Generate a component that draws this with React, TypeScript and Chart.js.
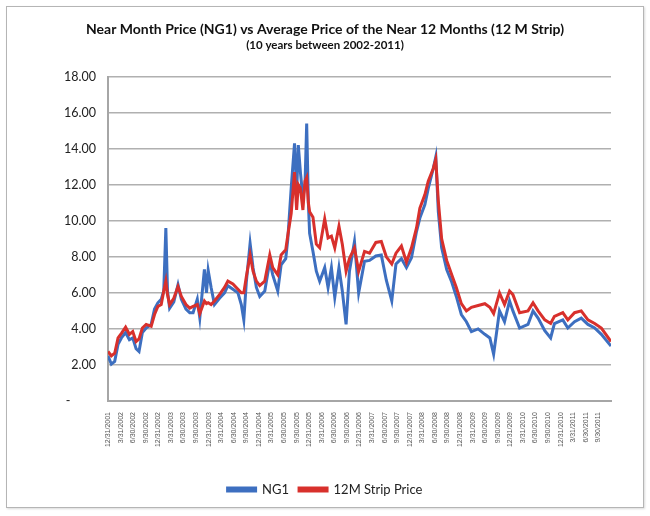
import React, { useEffect, useRef } from "react";
import { Chart, registerables } from "chart.js";

Chart.register(...registerables);

// x positions in months after 12/31/2001
const months = [
  0, 0.8, 1.6, 2.4, 3.2, 4.2, 5.1, 5.9, 6.7, 7.4, 8.2, 9.1, 10.3, 11.1, 11.9, 12.7, 13.3, 13.8, 14.2, 14.7,
  15.7, 16.7, 17.5, 18.6, 19.5, 20.3, 21.3, 21.9, 23.0, 23.5, 23.9, 24.6, 25.4, 26.6, 27.8, 28.6, 29.8, 31.0,
  31.8, 32.4, 33.0, 33.9, 34.6, 35.4, 36.2, 37.4, 38.6, 39.3, 40.5, 41.3, 42.4, 42.9, 43.7, 44.5, 45.0, 45.4,
  45.9, 46.5, 47.0, 47.4, 47.8, 48.1, 48.9, 49.7, 50.5, 51.7, 52.5, 53.3, 54.1, 55.1, 55.9, 56.8, 57.6, 58.8,
  59.8, 61.2, 62.4, 63.9, 65.2, 66.4, 67.7, 68.7, 70.0, 71.2, 72.4, 73.6, 74.4, 75.6, 76.4, 77.6, 78.2, 78.8,
  79.6, 80.8, 82.0, 83.1, 84.3, 85.5, 86.7, 88.3, 89.9, 91.1, 92.0, 93.4, 94.6, 95.8, 96.6, 98.2, 100.2, 101.4,
  102.6, 104.2, 105.6, 106.5, 108.5, 109.7, 111.3, 112.9, 114.5, 116.1, 117.7, 120,
];

const ng1 = [
  2.5, 2.05, 2.2, 3.15, 3.5, 3.8, 3.4, 3.5, 2.9, 2.75, 3.8, 4.05, 4.25, 5.1, 5.45, 5.65, 6.1, 9.6, 6.1, 5.15,
  5.5, 6.45, 5.65, 5.1, 4.9, 4.9, 5.65, 4.6, 7.3, 6.0, 7.25, 6.3, 5.35, 5.7, 6.0, 6.4, 6.2, 6.0,
  5.35, 4.5, 6.6, 8.75, 7.4, 6.3, 5.8, 6.1, 7.75, 7.0, 6.1, 7.55, 7.9, 9.0, 11.8, 14.3, 11.5, 14.2,
  12.7, 11.3, 12.0, 15.4, 11.0, 9.3, 8.3, 7.2, 6.65, 7.4, 6.3, 7.4, 5.75, 7.4, 6.1, 4.25, 7.2, 8.85,
  6.0, 7.75, 7.8, 8.05, 8.1, 6.7, 5.55, 7.6, 7.9, 7.4, 7.95, 9.4, 10.15, 10.9, 11.8, 12.9, 13.55, 10.5,
  8.5, 7.3, 6.6, 5.8, 4.8, 4.4, 3.85, 4.0, 3.7, 3.5, 2.6, 5.0, 4.4, 5.55, 5.0, 4.05, 4.25, 5.0,
  4.6, 3.9, 3.5, 4.3, 4.5, 4.05, 4.4, 4.6, 4.25, 4.05, 3.7, 3.05,
];

const strip = [
  2.75, 2.5, 2.65, 3.5, 3.75, 4.1, 3.7, 3.85, 3.3, 3.45, 4.05, 4.25, 4.15, 4.8, 5.25, 5.35, 6.1, 6.65, 5.9, 5.35,
  5.7, 6.35, 5.8, 5.35, 5.15, 5.25, 5.35, 4.85, 5.55, 5.4, 5.45, 5.35, 5.55, 5.9, 6.3, 6.65, 6.5, 6.2,
  6.0, 6.0, 6.9, 8.1, 7.2, 6.65, 6.4, 6.65, 8.1, 7.4, 7.0, 8.1, 8.4, 9.2, 10.4, 12.7, 10.6, 12.0,
  11.8, 10.6, 12.2, 12.4, 11.0, 10.5, 10.2, 8.7, 8.5, 10.1, 9.05, 9.15, 8.5, 9.7, 8.7, 7.2, 7.9, 8.5,
  7.2, 8.3, 8.2, 8.8, 8.85, 8.0, 7.6, 8.2, 8.6, 7.7, 8.5, 9.6, 10.7, 11.45, 12.2, 12.9, 13.4, 11.1,
  9.0, 7.8, 7.0, 6.3, 5.4, 5.0, 5.2, 5.3, 5.4, 5.2, 4.85, 6.0, 5.35, 6.1, 5.9, 4.9, 5.0, 5.45,
  5.0, 4.5, 4.3, 4.7, 4.9, 4.5, 4.9, 5.0, 4.5, 4.3, 4.05, 3.3,
];

const quarterLabels = [
  "12/31/2001", "3/31/2002", "6/30/2002", "9/30/2002", "12/31/2002", "3/31/2003", "6/30/2003", "9/30/2003",
  "12/31/2003", "3/31/2004", "6/30/2004", "9/30/2004", "12/31/2004", "3/31/2005", "6/30/2005", "9/30/2005",
  "12/31/2005", "3/31/2006", "6/30/2006", "9/30/2006", "12/31/2006", "3/31/2007", "6/30/2007", "9/30/2007",
  "12/31/2007", "3/31/2008", "6/30/2008", "9/30/2008", "12/31/2008", "3/31/2009", "6/30/2009", "9/30/2009",
  "12/31/2009", "3/31/2010", "6/30/2010", "9/30/2010", "12/31/2010", "3/31/2011", "6/30/2011", "9/30/2011",
];

const seriesNames = ["NG1", "12M Strip Price"];
const titleText = "Near Month Price (NG1) vs Average Price of the Near 12 Months (12 M Strip)";
const subtitleText = "(10 years between 2002-2011)";

const BLUE = "#3d6fc0";
const RED = "#d8302c";

export default function App() {
  const ref = useRef<HTMLCanvasElement | null>(null);

  useEffect(() => {
    document.body.style.margin = "0";
    const canvas = ref.current;
    if (!canvas) return;
    const chart = new Chart(canvas, {
      type: "line",
      data: {
        datasets: [
          {
            label: seriesNames[0],
            data: months.map((m, i) => ({ x: m, y: ng1[i] })),
            borderColor: BLUE,
            backgroundColor: BLUE,
            borderWidth: 3,
            pointRadius: 0,
            tension: 0,
            order: 1,
          },
          {
            label: seriesNames[1],
            data: months.map((m, i) => ({ x: m, y: strip[i] })),
            borderColor: RED,
            backgroundColor: RED,
            borderWidth: 3,
            pointRadius: 0,
            tension: 0,
            order: 0,
          },
        ],
      },
      options: {
        animation: false,
        responsive: false,
        layout: { padding: { left: 39, right: 39, top: 0, bottom: 10 } },
        plugins: {
          title: {
            display: true,
            text: titleText,
            color: "#111",
            font: { family: "Lato", size: 14, weight: "bold" },
            padding: { top: 21, bottom: 1 },
          },
          subtitle: {
            display: true,
            text: subtitleText,
            color: "#111",
            font: { family: "Lato", size: 11.5, weight: "bold" },
            padding: { top: 0, bottom: 24 },
          },
          legend: {
            position: "bottom",
            labels: {
              boxWidth: 28,
              boxHeight: 3,
              padding: 10,
              color: "#222",
              font: { family: "Lato", size: 13 },
              sort: (a: any, b: any) => a.datasetIndex - b.datasetIndex,
            },
          },
          tooltip: { enabled: false },
        },
        scales: {
          x: {
            type: "linear",
            min: 0,
            max: 120,
            afterFit: (s: any) => {
              s.height = 72;
            },
            afterBuildTicks: (s: any) => {
              s.ticks = quarterLabels.map((_, i) => ({ value: i * 3 }));
            },
            grid: { display: false },
            border: { display: true, color: "#a6a6a6", width: 2 },
            ticks: {
              autoSkip: false,
              maxRotation: 90,
              minRotation: 90,
              padding: 3,
              color: "#555",
              font: { family: "Liberation Sans", size: 7 },
              callback: (v: any) => quarterLabels[Math.round(Number(v) / 3)] ?? "",
            },
          },
          y: {
            min: 0,
            max: 18,
            afterFit: (s: any) => {
              s.width = 69;
            },
            grid: { color: "#b0b0b0", lineWidth: 1.5, drawTicks: false },
            border: { display: true, color: "#a6a6a6", width: 2 },
            ticks: {
              stepSize: 2,
              padding: 12,
              color: "#222",
              font: { family: "Lato", size: 12.5 },
              callback: (v: any) => (Number(v) === 0 ? "-" + "\u00a0".repeat(8) : Number(v).toFixed(2)),
            },
          },
        },
      },
    });
    return () => chart.destroy();
  }, []);

  return (
    <div style={{ position: "relative", width: 650, height: 516, background: "#fff" }}>
      <div
        style={{
          position: "absolute",
          left: 6,
          top: 6,
          width: 636,
          height: 500,
          border: "1px solid #b5b5b5",
          boxShadow: "1px 1px 2px rgba(0,0,0,0.15)",
        }}
      />
      <canvas ref={ref} width={650} height={516} style={{ position: "absolute", left: 0, top: 0 }} />
    </div>
  );
}
